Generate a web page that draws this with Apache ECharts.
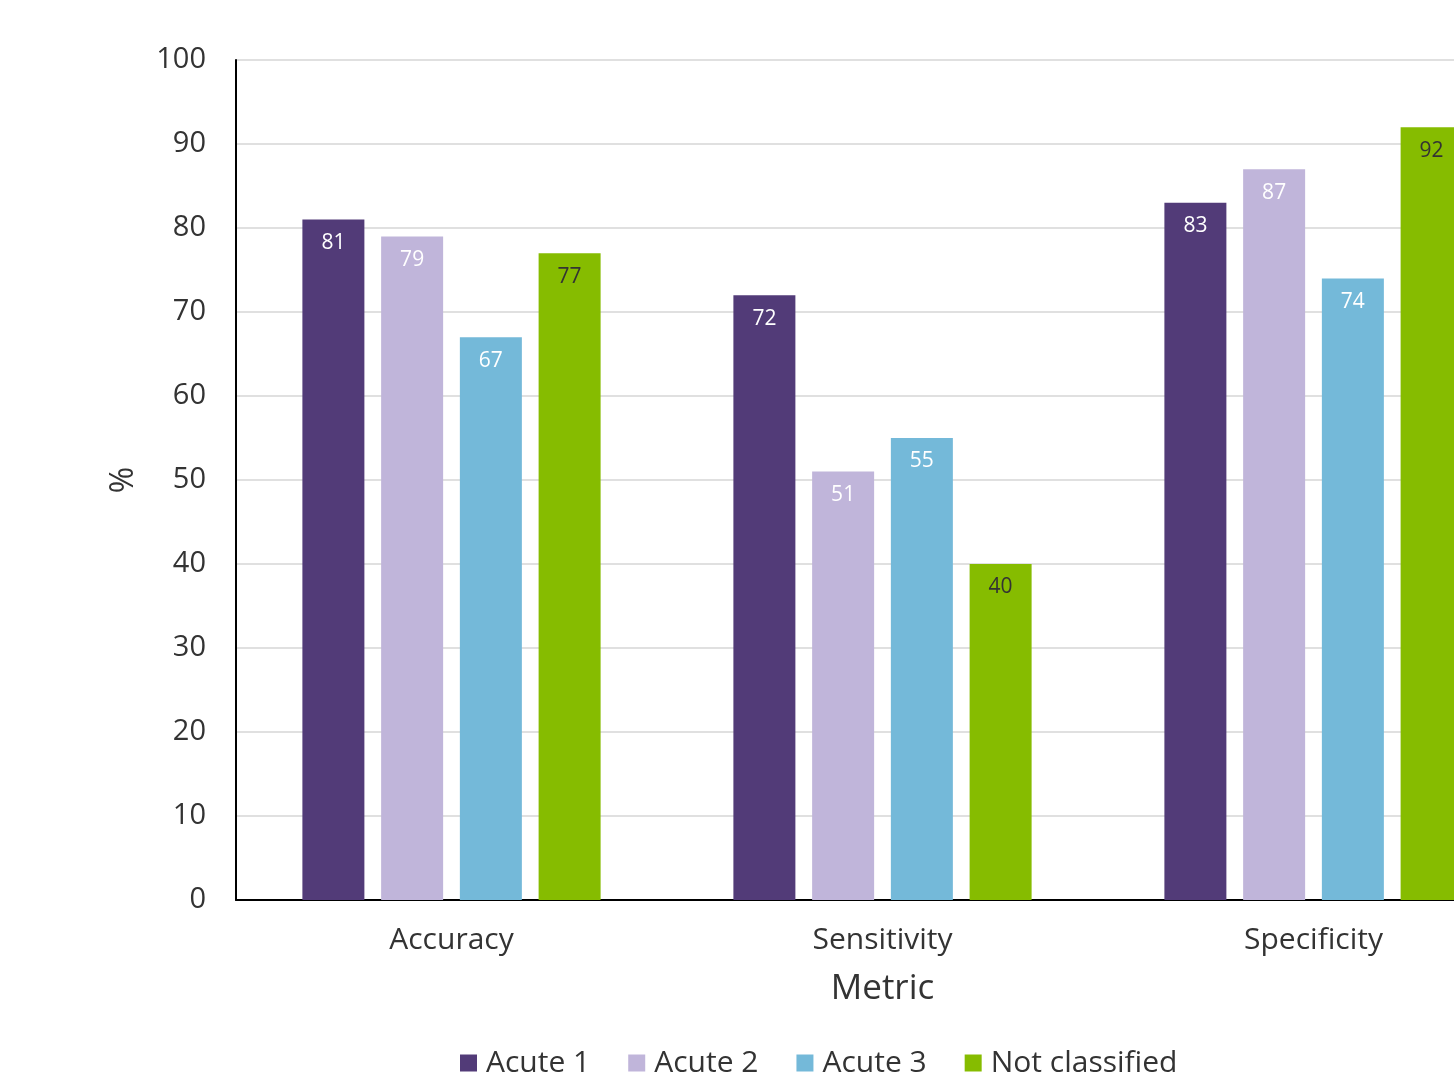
<!DOCTYPE html>
<html>
<head>
<meta charset="utf-8">
<script src="https://cdn.jsdelivr.net/npm/echarts@6/dist/echarts.min.js"></script>
<style>
  html, body { margin: 0; padding: 0; overflow: hidden; background: #fff; }
  #chart { width: 1600px; height: 1074px; }
</style>
</head>
<body>
<div id="chart"></div>
<script>
// data
var metrics = ['Accuracy', 'Sensitivity', 'Specificity'];
var acute1 = [81, 72, 83];
var acute2 = [79, 51, 87];
var acute3 = [67, 55, 74];
var notClassified = [77, 40, 92];
var yTicks = [0, 10, 20, 30, 40, 50, 60, 70, 80, 90, 100];

var font = '"Open Sans", "Noto Sans", sans-serif';

function makeSeries(name, data, color, labelColor) {
    return {
        name: name,
        type: 'bar',
        data: data,
        barWidth: 62,
        barGap: '27%',
        itemStyle: { color: color },
        label: {
            show: true,
            position: 'insideTop',
            distance: 13,
            color: labelColor,
            fontFamily: font,
            fontSize: 21
        }
    };
}

var chart = echarts.init(document.getElementById('chart'));
chart.setOption({
    animation: false,
    textStyle: { fontFamily: font },
    grid: { left: 236, top: 60, right: 71, bottom: 174 },
    legend: {
        bottom: -9,
        left: 455,
        itemWidth: 17,
        itemHeight: 17,
        itemGap: 38,
        icon: 'rect',
        textStyle: { fontSize: 30, color: '#333', fontFamily: font, padding: [0, 0, 0, 4] },
        data: ['Acute 1', 'Acute 2', 'Acute 3', 'Not classified']
    },
    xAxis: {
        type: 'category',
        data: metrics,
        name: 'Metric',
        nameLocation: 'middle',
        nameGap: 72,
        nameTextStyle: { fontSize: 35, color: '#333', fontFamily: font },
        axisLine: { lineStyle: { color: '#000', width: 2 } },
        axisTick: { show: false },
        axisLabel: { fontSize: 30, color: '#333', margin: 25, fontFamily: font }
    },
    yAxis: {
        type: 'value',
        min: yTicks[0],
        max: yTicks[yTicks.length - 1],
        interval: 10,
        name: '%',
        nameLocation: 'middle',
        nameGap: 96,
        nameRotate: 90,
        nameTextStyle: { fontSize: 32, color: '#333', fontFamily: font },
        axisLine: { show: true, lineStyle: { color: '#000', width: 2 } },
        axisTick: { show: false },
        axisLabel: { fontSize: 29, color: '#333', margin: 30, fontFamily: font },
        splitLine: { lineStyle: { color: '#e0e0e0', width: 2 } }
    },
    series: [
        makeSeries('Acute 1', acute1, '#523b78', '#fff'),
        makeSeries('Acute 2', acute2, '#c0b5da', '#fff'),
        makeSeries('Acute 3', acute3, '#74b9d9', '#fff'),
        makeSeries('Not classified', notClassified, '#86bc00', '#333')
    ]
});
</script>
</body>
</html>
